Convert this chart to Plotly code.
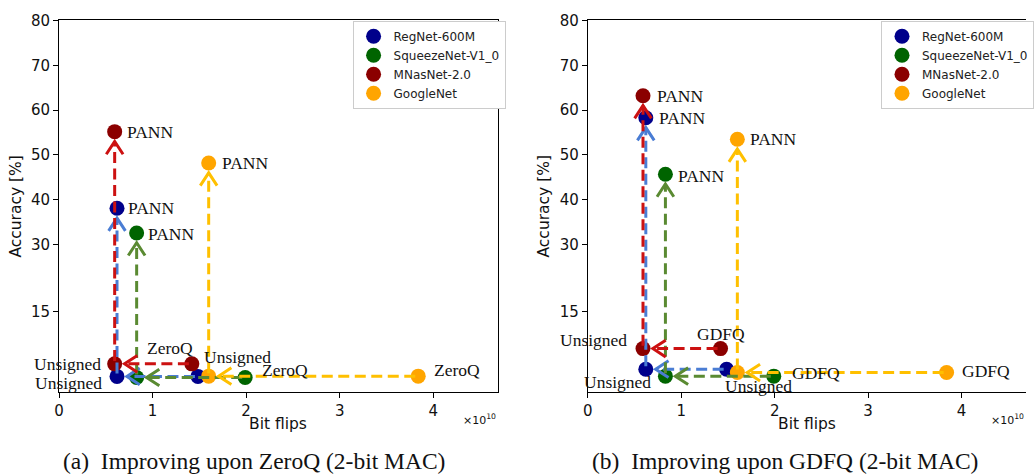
import math
import plotly.graph_objects as go

# ---- data -------------------------------------------------------------
models = ["RegNet-600M", "SqueezeNet-V1_0", "MNasNet-2.0", "GoogleNet"]

# (a) ZeroQ baseline -> unsigned -> PANN
zq_base_flips = [1.485e10, 1.99e10, 1.42e10, 3.84e10]
zq_uns_flips = [0.62e10, 0.83e10, 0.595e10, 1.60e10]
zq_low_acc = [0.6, 0.35, 3.4, 0.65]
zq_pann_acc = [38.1, 32.6, 55.2, 48.2]

# (b) GDFQ baseline -> unsigned -> PANN
gd_base_flips = [1.485e10, 1.99e10, 1.42e10, 3.84e10]
gd_uns_flips = [0.62e10, 0.83e10, 0.59e10, 1.60e10]
gd_low_acc = [2.2, 0.65, 6.8, 1.45]
gd_pann_acc = [58.3, 45.7, 63.2, 53.5]

x_tick_vals = [0, 1e10, 2e10, 3e10, 4e10]
x_tick_text = ["0", "1", "2", "3", "4"]
y_tick_vals = [15, 30, 40, 50, 60, 70, 80]

captions = ["(a)\u2002Improving upon ZeroQ (2-bit MAC)",
            "(b)\u2002Improving upon GDFQ (2-bit MAC)"]

# ---- style ------------------------------------------------------------
marker_colors = ["#00008b", "#006400", "#8b0000", "#ffa500"]
arrow_colors = ["#4a7dd4", "#5a8a32", "#cc1111", "#ffc000"]

W, H = 1034, 476
X_RANGE = [0, 4.69e10]
Y_RANGE = [-2.8, 80]
X_DOMAINS = [[0.0529, 0.4826], [0.5709, 1.0]]
Y_DOMAIN = [0.1807, 0.9754]
MARKER_SIZE = 15
SANS = "DejaVu Sans"
SERIF = "Liberation Serif"

# per-panel label placement: (xanchor, dx px, dy px [down +]) or None
label_style = [
    {   # panel a
        "base": [None, ("left", 15, -7), ("right", 3, -16), ("left", 14, -6)],
        "uns": [("right", -13, 7), None, ("right", -12, 0), ("left", -7, -19)],
        "pann": [("left", 9, 0), ("left", 9, 1), ("left", 10, 0), ("left", 11, 0)],
    },
    {   # panel b
        "base": [None, ("left", 16, -3), ("left", -26, -15), ("left", 13, -2)],
        "uns": [("right", 7, 13), None, ("right", -14, -9), ("left", -14, 13)],
        "pann": [("left", 11, 0), ("left", 11, 2), ("left", 12, 0), ("left", 11, 0)],
    },
]

panels = [
    dict(base=zq_base_flips, uns=zq_uns_flips, low=zq_low_acc, pann=zq_pann_acc, name="ZeroQ"),
    dict(base=gd_base_flips, uns=gd_uns_flips, low=gd_low_acc, pann=gd_pann_acc, name="GDFQ"),
]

fig = go.Figure()
annotations = []


def scales(p):
    dom = X_DOMAINS[p]
    sx = (dom[1] - dom[0]) * W / (X_RANGE[1] - X_RANGE[0])
    sy = (Y_DOMAIN[1] - Y_DOMAIN[0]) * H / (Y_RANGE[1] - Y_RANGE[0])
    return sx, sy


def add_arrow(p, src, dst, color):
    """Dashed line with an open head, ending just short of the target marker."""
    sx, sy = scales(p)
    xr, yr = ("x", "y") if p == 0 else ("x2", "y2")
    dxp = (dst[0] - src[0]) * sx
    dyp = (dst[1] - src[1]) * sy
    L = math.hypot(dxp, dyp)
    ux, uy = dxp / L, dyp / L
    tip_off = 10.0
    start_off = 3.0
    tip = (dst[0] - ux * tip_off / sx, dst[1] - uy * tip_off / sy)
    start = (src[0] + ux * start_off / sx, src[1] + uy * start_off / sy)
    fig.add_trace(go.Scatter(
        x=[start[0], tip[0]], y=[start[1], tip[1]], mode="lines",
        line=dict(color=color, width=3, dash="11px,5.5px"),
        xaxis=xr, yaxis=yr, showlegend=False, hoverinfo="skip"))
    hl, hw = 13.0, 8.5
    nx, ny = -uy, ux
    wx = [tip[0] + (-ux * hl + nx * hw) / sx, tip[0], tip[0] + (-ux * hl - nx * hw) / sx]
    wy = [tip[1] + (-uy * hl + ny * hw) / sy, tip[1], tip[1] + (-uy * hl - ny * hw) / sy]
    fig.add_trace(go.Scatter(
        x=wx, y=wy, mode="lines", line=dict(color=color, width=3),
        xaxis=xr, yaxis=yr, showlegend=False, hoverinfo="skip"))


def add_label(p, x, y, text, style):
    if style is None:
        return
    anchor, dx, dy = style
    xr, yr = ("x", "y") if p == 0 else ("x2", "y2")
    annotations.append(dict(
        x=x, y=y, xref=xr, yref=yr, text=text, showarrow=False,
        xanchor=anchor, yanchor="middle", xshift=dx, yshift=-dy,
        font=dict(family=SERIF, size=17.5, color="#111111")))


for p, d in enumerate(panels):
    xr, yr = ("x", "y") if p == 0 else ("x2", "y2")
    legend_id = "legend" if p == 0 else "legend2"
    for i, m in enumerate(models):
        fig.add_trace(go.Scatter(
            x=[d["base"][i], d["uns"][i], d["uns"][i]],
            y=[d["low"][i], d["low"][i], d["pann"][i]],
            mode="markers", name=m,
            marker=dict(color=marker_colors[i], size=MARKER_SIZE, line=dict(width=0)),
            xaxis=xr, yaxis=yr, legend=legend_id, cliponaxis=False))
    for i, m in enumerate(models):
        add_arrow(p, (d["base"][i], d["low"][i]), (d["uns"][i], d["low"][i]), arrow_colors[i])
        add_arrow(p, (d["uns"][i], d["low"][i]), (d["uns"][i], d["pann"][i]), arrow_colors[i])
    st = label_style[p]
    for i in range(len(models)):
        add_label(p, d["base"][i], d["low"][i], d["name"], st["base"][i])
        add_label(p, d["uns"][i], d["low"][i], "Unsigned", st["uns"][i])
        add_label(p, d["uns"][i], d["pann"][i], "PANN", st["pann"][i])

    dom = X_DOMAINS[p]
    cx = (dom[0] + dom[1]) / 2
    # axis titles, exponent, caption
    annotations.append(dict(x=cx, y=1 - 423 / H, xref="paper", yref="paper",
                            text="Bit flips", showarrow=False, xanchor="center",
                            yanchor="middle", font=dict(family=SANS, size=15.5, color="#111111")))
    annotations.append(dict(x=dom[0] - 44 / W, y=(Y_DOMAIN[0] + Y_DOMAIN[1]) / 2,
                            xref="paper", yref="paper", text="Accuracy [%]", textangle=-90,
                            showarrow=False, xanchor="center", yanchor="middle",
                            font=dict(family=SANS, size=15.5, color="#111111")))
    annotations.append(dict(x=dom[1], y=1 - 418 / H, xref="paper", yref="paper",
                            text="\u00d710<sup>10</sup>", showarrow=False, xanchor="right",
                            yanchor="middle", font=dict(family=SANS, size=11, color="#111111")))
    cap_x = [251.7, 790][p] / W
    annotations.append(dict(x=cap_x, y=1 - 461 / H, xref="paper", yref="paper",
                            text=captions[p], showarrow=False, xanchor="center",
                            yanchor="middle", font=dict(family=SERIF, size=23.5, color="#111111")))

axis_common = dict(showline=True, linecolor="black", linewidth=1, ticks="outside",
                   ticklen=5, tickcolor="black", showgrid=False, zeroline=False,
                   tickfont=dict(family=SANS, size=15, color="#111111"))

legend_common = dict(bgcolor="white", bordercolor="#cccccc", borderwidth=1,
                     font=dict(family=SANS, size=12, color="#222222"),
                     xanchor="left", yanchor="top", itemclick=False)

fig.update_layout(
    width=W, height=H,
    margin=dict(l=0, r=0, t=0, b=0),
    paper_bgcolor="white", plot_bgcolor="white",
    xaxis=dict(domain=X_DOMAINS[0], range=X_RANGE, anchor="y", mirror=True,
               tickvals=x_tick_vals, ticktext=x_tick_text, **axis_common),
    yaxis=dict(domain=Y_DOMAIN, range=Y_RANGE, anchor="x", mirror=True,
               tickvals=y_tick_vals, **axis_common),
    xaxis2=dict(domain=X_DOMAINS[1], range=X_RANGE, anchor="y2", mirror=True,
                tickvals=x_tick_vals, ticktext=x_tick_text, **axis_common),
    yaxis2=dict(domain=Y_DOMAIN, range=Y_RANGE, anchor="x2", mirror=False,
                tickvals=y_tick_vals, **axis_common),
    legend=dict(x=352 / W, y=1 - 12 / H, **legend_common),
    legend2=dict(x=887.3 / W, y=1 - 12 / H, **legend_common),
    annotations=annotations,
    showlegend=True,
)

fig.write_html("out.html")
